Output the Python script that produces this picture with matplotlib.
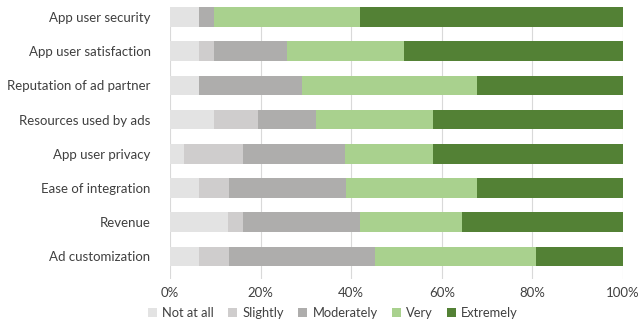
import matplotlib
matplotlib.use("Agg")
import matplotlib.pyplot as plt
import numpy as np

plt.rcParams["font.family"] = ["Lato", "DejaVu Sans"]

categories = [
    "App user security",
    "App user satisfaction",
    "Reputation of ad partner",
    "Resources used by ads",
    "App user privacy",
    "Ease of integration",
    "Revenue",
    "Ad customization",
]
levels = ["Not at all", "Slightly", "Moderately", "Very", "Extremely"]

# percent of respondents per importance level
not_at_all = [6.5, 6.5, 6.5, 9.7, 3.2, 6.5, 12.9, 6.5]
slightly = [0.0, 3.2, 0.0, 9.7, 12.9, 6.5, 3.2, 6.5]
moderately = [3.2, 16.1, 22.6, 12.9, 22.6, 25.8, 25.8, 32.3]
very = [32.3, 25.8, 38.7, 25.8, 19.4, 29.0, 22.6, 35.5]
extremely = [58.1, 48.4, 32.3, 41.9, 41.9, 32.3, 35.5, 19.4]

colors = ["#E3E3E3", "#CFCDCD", "#AEADAC", "#A9D18E", "#538135"]

fig = plt.figure(figsize=(6.39, 3.26), dpi=100)
ax = fig.add_axes([170 / 639, 1 - 279 / 326, 453 / 639, 272 / 326])

y = np.arange(len(categories))
left = np.zeros(len(categories))
for vals, lab, col in zip([not_at_all, slightly, moderately, very, extremely], levels, colors):
    ax.barh(y, vals, left=left, height=0.57, color=col, label=lab, zorder=3)
    left += np.array(vals)

ax.set_xlim(0, 100)
ax.set_ylim(7.66, -0.29)
ax.set_xticks(np.arange(0, 101, 20))
ax.set_xticklabels([f"{v}%" for v in range(0, 101, 20)])
ax.set_yticks(y)
ax.set_yticklabels(categories)
ax.grid(axis="x", color="#D9D9D9", linewidth=0.8, zorder=0)
for s in ax.spines.values():
    s.set_visible(False)
ax.tick_params(axis="both", length=0, labelsize=9.5, colors="#404040")
ax.tick_params(axis="y", pad=14)
ax.tick_params(axis="x", pad=6)

leg = fig.legend(loc="center", bbox_to_anchor=(333 / 639, 1 - 313 / 326), ncol=5,
                 frameon=False, fontsize=9.3, handlelength=0.7, handleheight=0.7,
                 handletextpad=0.4, columnspacing=1.1, borderpad=0)
for t in leg.get_texts():
    t.set_color("#404040")

fig.savefig("out.png", dpi=100)
